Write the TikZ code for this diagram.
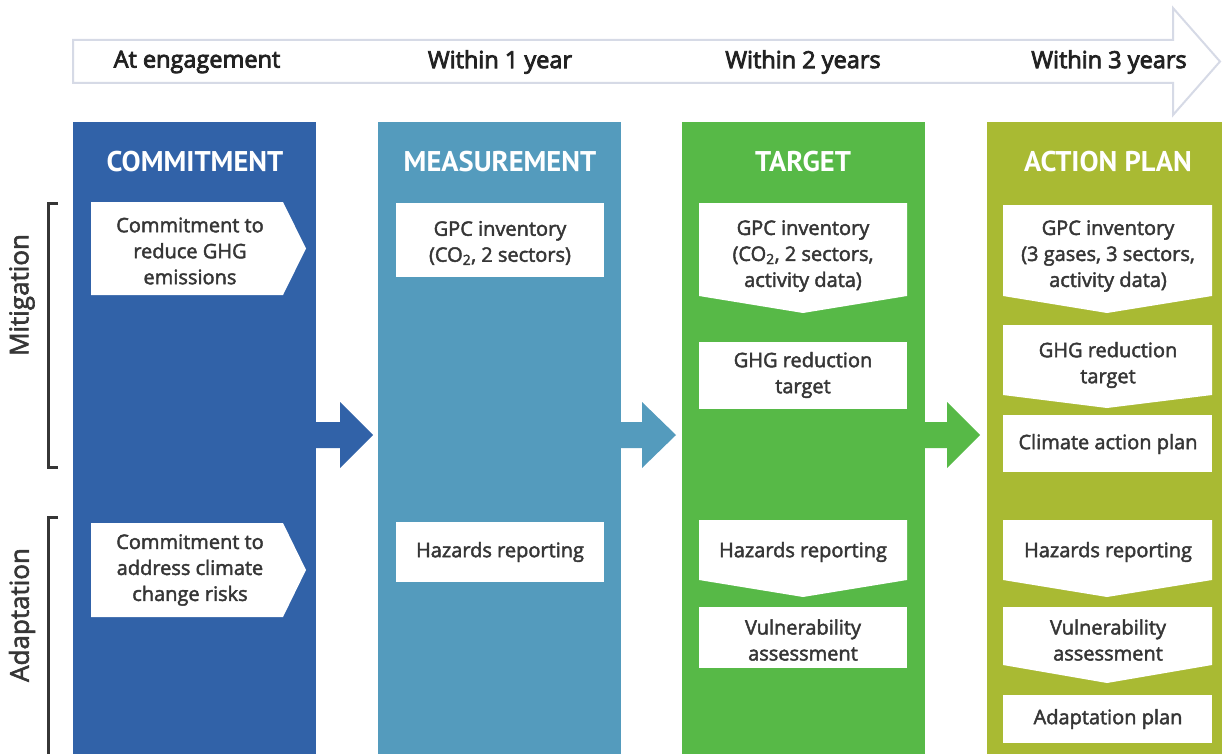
\documentclass[tikz,border=0pt]{standalone}
\usepackage{fontspec}
\setmainfont{Open Sans}
\newfontfamily\bodyfont{Open Sans}[FakeBold=2.2]
\newfontfamily\labelfont{Open Sans}[FakeBold=3.4]
\newfontfamily\headfont{PT Sans}
\definecolor{commitblue}{HTML}{3162A8}
\definecolor{measureblue}{HTML}{549BBD}
\definecolor{targetgreen}{HTML}{57B947}
\definecolor{actiongreen}{HTML}{A9BA33}
\definecolor{timeline}{HTML}{D6DAE6}
\definecolor{ink}{HTML}{363636}
\definecolor{darkink}{HTML}{222222}
\begin{document}
\begin{tikzpicture}[x=1pt,y=-1pt,
  column/.style={draw=none,inner sep=0pt,minimum width=243pt,minimum height=640pt,anchor=north west},
  head/.style={font=\headfont\bfseries\fontsize{28.5}{32}\selectfont,text=white},
  when/.style={font=\labelfont\fontsize{23.5}{27}\selectfont,text=darkink},
  side/.style={font=\bodyfont\fontsize{26}{30}\selectfont,text=ink,rotate=90},
  item/.style={font=\bodyfont\fontsize{20}{26}\selectfont,text=ink,align=center},
  card/.style={fill=white},
  bracket/.style={draw=ink,line width=3pt}]
\useasboundingbox (0,0) rectangle (1222,754);

% timeline arrow
\draw[timeline,line width=2pt,fill=white]
  (73,40) -- (1173,40) -- (1173,8) -- (1220,61.5) -- (1173,115) -- (1173,83) -- (73,83) -- cycle;
\node[when] (t1) at (197,62) {At engagement};
\node[when] (t2) at (500,62) {Within 1 year};
\node[when] (t3) at (803,62) {Within 2 years};
\node[when] (t4) at (1109,62) {Within 3 years};

% columns
\node[column,fill=commitblue] (c1) at (73,122) {};
\node[column,fill=measureblue] (c2) at (378,122) {};
\node[column,fill=targetgreen] (c3) at (682,122) {};
\node[column,fill=actiongreen] (c4) at (987,122) {};

\node[head] (h1) at (195,162) {COMMITMENT};
\node[head] (h2) at (500,162) {MEASUREMENT};
\node[head] (h3) at (803,162) {TARGET};
\node[head] (h4) at (1108,162) {ACTION PLAN};

% block arrows between columns
\fill[commitblue] (314,422) -- (340,422) -- (340,402) -- (373,435) -- (340,468) -- (340,448) -- (314,448) -- cycle;
\fill[measureblue] (618,422) -- (642,422) -- (642,402) -- (676,435) -- (642,468) -- (642,448) -- (618,448) -- cycle;
\fill[targetgreen] (922,422) -- (947,422) -- (947,402) -- (980,435) -- (947,468) -- (947,448) -- (922,448) -- cycle;

% side brackets
\draw[bracket] (58,203) -- (48,203) -- (48,467) -- (58,467);
\draw[bracket] (58,517) -- (48,517) -- (48,760);
\node[side] (s1) at (22,295) {Mitigation};
\node[side] (s2) at (22,615) {Adaptation};

% commitment cards
\fill[card] (91,202) -- (283,202) -- (306,248.5) -- (283,295) -- (91,295) -- cycle;
\node[item] (a1) at (190,251) {Commitment to\\reduce GHG\\emissions};
\fill[card] (91,523) -- (283,523) -- (306,570) -- (283,617) -- (91,617) -- cycle;
\node[item] (a2) at (190,570) {Commitment to\\address climate\\change risks};

% measurement cards
\fill[card] (396,203) rectangle (604,277);
\node[item] (b1) at (500,243) {GPC inventory\\(CO\textsubscript{2}, 2 sectors)};
\fill[card] (396,522) rectangle (604,582);
\node[item] (b2) at (500,552) {Hazards reporting};

% target cards
\fill[card] (699,203) -- (907,203) -- (907,296) -- (803,313) -- (699,296) -- cycle;
\node[item] (d1) at (803,256) {GPC inventory\\(CO\textsubscript{2}, 2 sectors,\\activity data)};
\fill[card] (699,342) rectangle (907,409);
\node[item] (d2) at (803,375) {GHG reduction\\target};
\fill[card] (699,520) -- (907,520) -- (907,580) -- (803,597) -- (699,580) -- cycle;
\node[item] (d3) at (803,552) {Hazards reporting};
\fill[card] (699,607) rectangle (907,668);
\node[item] (d4) at (803,640) {Vulnerability\\assessment};

% action plan cards
\fill[card] (1003,205) -- (1212,205) -- (1212,296) -- (1107,313) -- (1003,296) -- cycle;
\node[item] (e1) at (1108,256) {GPC inventory\\(3 gases, 3 sectors,\\activity data)};
\fill[card] (1003,325) -- (1212,325) -- (1212,395) -- (1107,408) -- (1003,395) -- cycle;
\node[item] (e2) at (1108,365) {GHG reduction\\target};
\fill[card] (1003,415) rectangle (1212,472);
\node[item] (e3) at (1108,444) {Climate action plan};
\fill[card] (1003,520) -- (1212,520) -- (1212,580) -- (1107,597) -- (1003,580) -- cycle;
\node[item] (e4) at (1108,552) {Hazards reporting};
\fill[card] (1003,607) -- (1212,607) -- (1212,665) -- (1107,683) -- (1003,665) -- cycle;
\node[item] (e5) at (1108,640) {Vulnerability\\assessment};
\fill[card] (1003,695) rectangle (1212,743);
\node[item] (e6) at (1108,719) {Adaptation plan};
\end{tikzpicture}
\end{document}
